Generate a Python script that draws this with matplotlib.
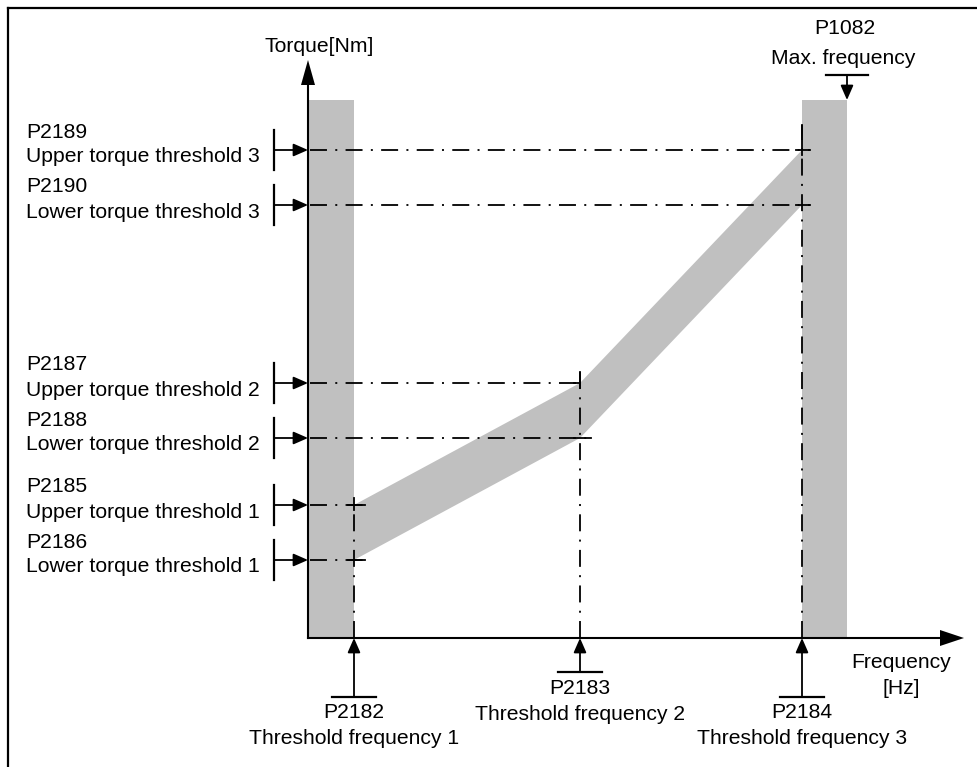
import matplotlib
matplotlib.use('Agg')
import matplotlib.pyplot as plt
from matplotlib.patches import Polygon, Rectangle

plt.rcParams['font.family'] = ['Liberation Sans', 'DejaVu Sans']

# Threshold frequencies (axis units, origin at the axis cross)
freq_params = ['P2182', 'P2183', 'P2184']
freq_names = ['Threshold frequency 1', 'Threshold frequency 2', 'Threshold frequency 3']
freq_values = [46, 272, 494]
f_max = 539
f_max_param = 'P1082'
f_max_name = 'Max. frequency'

# Torque thresholds (axis units)
upper_params = ['P2185', 'P2187', 'P2189']
upper_names = ['Upper torque threshold 1', 'Upper torque threshold 2', 'Upper torque threshold 3']
upper_values = [133, 255, 488]
lower_params = ['P2186', 'P2188', 'P2190']
lower_names = ['Lower torque threshold 1', 'Lower torque threshold 2', 'Lower torque threshold 3']
lower_values = [78, 200, 433]
band_top = 538

fig = plt.figure(figsize=(9.77, 7.67), dpi=100)
ax = fig.add_axes([0, 0, 1, 1])
ax.set_xlim(-308, 669)
ax.set_ylim(-129, 638)
ax.axis('off')

gray = '#c0c0c0'
fs = 15.2
lw_dd = 1.3
dashdot = (0, (9.4, 4.6, 1.1, 4.6))

# outer frame
ax.plot([-300, -300], [-129, 630], color='black', lw=1.6)
ax.plot([-300, 669], [630, 630], color='black', lw=1.6)

# gray bands
ax.add_patch(Rectangle((0, 0), freq_values[0], band_top, color=gray, lw=0))
ax.add_patch(Rectangle((freq_values[2], 0), f_max - freq_values[2], band_top, color=gray, lw=0))
band = [(freq_values[0], lower_values[0]), (freq_values[1], lower_values[1]), (freq_values[2], lower_values[2]),
        (freq_values[2], upper_values[2]), (freq_values[1], upper_values[1]), (freq_values[0], upper_values[0])]
ax.add_patch(Polygon(band, closed=True, color=gray, lw=0))

# dash-dot guide lines with small solid crosses at the corners
upper_ext = [11, 0, 8]
lower_ext = [11, 11, 8]
vtop = [7, 11, 25]
for i in range(3):
    f = freq_values[i]
    ax.plot([2, f + upper_ext[i]], [upper_values[i]] * 2, color='black', lw=lw_dd, linestyle=dashdot)
    ax.plot([2, f + lower_ext[i]], [lower_values[i]] * 2, color='black', lw=lw_dd, linestyle=dashdot)
    ax.plot([f, f], [0, upper_values[i] + vtop[i]], color='black', lw=lw_dd, linestyle=dashdot)
    ax.plot([f, f], [upper_values[i] - 5, upper_values[i] + vtop[i]], color='black', lw=lw_dd)
    ax.plot([f - 6, f + upper_ext[i]], [upper_values[i]] * 2, color='black', lw=lw_dd)
    ax.plot([f - 6, f + lower_ext[i]], [lower_values[i]] * 2, color='black', lw=lw_dd)

# axes with arrow heads
ax.plot([0, 0], [0, 553], color='black', lw=1.5)
ax.add_patch(Polygon([(-7, 553), (7, 553), (0, 578)], closed=True, color='black', lw=0))
ax.plot([0, 632], [0, 0], color='black', lw=1.5)
ax.add_patch(Polygon([(632, -8), (632, 8), (656, 0)], closed=True, color='black', lw=0))

ax.text(11, 591, 'Torque[Nm]', ha='center', va='center', fontsize=fs)
ax.text(593, -24, 'Frequency', ha='center', va='center', fontsize=fs)
ax.text(593, -50, '[Hz]', ha='center', va='center', fontsize=fs)

arrow = dict(arrowstyle='-|>,head_length=0.8,head_width=0.35', color='black', lw=1.3,
             shrinkA=0, shrinkB=0, mutation_scale=11)

# torque threshold markers on the left
for params, names, vals in [(upper_params, upper_names, upper_values), (lower_params, lower_names, lower_values)]:
    for p, n, v in zip(params, names, vals):
        ax.plot([-34, -34], [v - 20, v + 20], color='black', lw=1.6)
        ax.annotate('', xy=(0, v), xytext=(-34, v), arrowprops=arrow)
        ax.text(-282, v + 18, p, ha='left', va='center', fontsize=fs)
        ax.text(-282, v - 7, n, ha='left', va='center', fontsize=fs)

# frequency threshold markers below
bar_y = [-59, -34, -59]
for p, n, f, b in zip(freq_params, freq_names, freq_values, bar_y):
    ax.plot([f - 22, f + 22], [b, b], color='black', lw=1.6)
    ax.annotate('', xy=(f, 0), xytext=(f, b), arrowprops=arrow)
    ax.text(f, b - 16, p, ha='center', va='center', fontsize=fs)
    ax.text(f, b - 42, n, ha='center', va='center', fontsize=fs)

# max frequency marker
ax.plot([f_max - 21, f_max + 21], [563, 563], color='black', lw=1.6)
ax.annotate('', xy=(f_max, band_top), xytext=(f_max, 563), arrowprops=arrow)
ax.text(f_max - 2, 610, f_max_param, ha='center', va='center', fontsize=fs)
ax.text(f_max - 4, 580, f_max_name, ha='center', va='center', fontsize=fs)

fig.savefig('out.png', dpi=100)
